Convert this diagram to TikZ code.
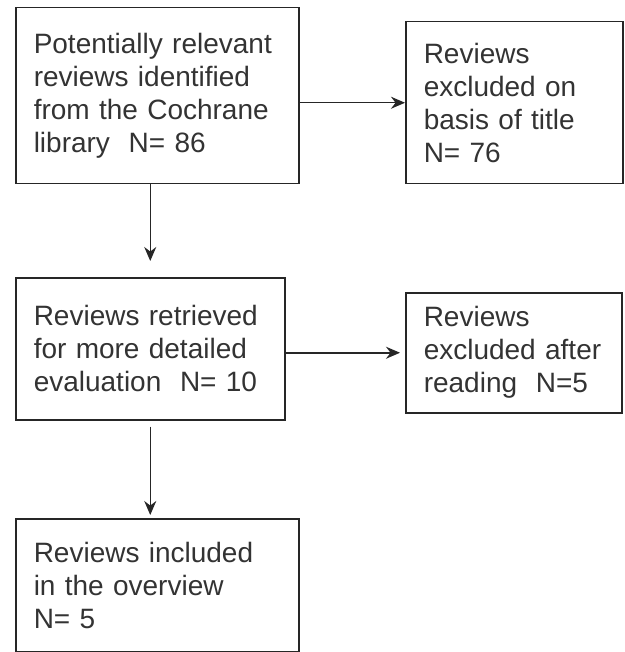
\documentclass[tikz,border=0pt]{standalone}
\usepackage{fontspec}
\setmainfont{Liberation Sans}
\usepackage{tikz}
\usetikzlibrary{positioning,arrows.meta}

\tikzset{
    stagebox/.style={draw=black!85, line width=1.5pt, anchor=north west, align=left,
        inner xsep=18pt, inner ysep=0pt, text=black!80,
        font=\fontsize{28}{33}\selectfont},
}

\begin{document}
\begin{tikzpicture}[x=1pt, y=-1pt, >={Stealth[length=14pt, width=12pt]}, line width=1.5pt]
    \useasboundingbox (0,0) rectangle (624,652);

    % Nodes left column
    \node[stagebox, minimum width=283pt, minimum height=176pt, text width=247pt] (found) at (15,7)
        {Potentially relevant\\reviews identified\\from the Cochrane\\library\ \ N= 86};
    \node[stagebox, minimum width=269pt, minimum height=142pt, text width=233pt] (retrieved) at (15,277)
        {Reviews retrieved\\for more detailed\\evaluation\ \ N= 10\\[8pt]};
    \node[stagebox, minimum width=283pt, minimum height=133pt, text width=247pt] (included) at (15,518)
        {Reviews included\\in the overview\\N= 5\\[6pt]};

    % Nodes right column
    \node[stagebox, minimum width=217pt, minimum height=162pt, text width=181pt] (title) at (405,21)
        {Reviews\\excluded on\\basis of title\\N= 76};
    \node[stagebox, minimum width=216pt, minimum height=120pt, text width=180pt] (reading) at (405,292)
        {Reviews\\excluded after\\reading\ \ N=5};

    % Connections
    \draw[->, black!85] (found.east |- title.west) -- (title.west);
    \draw[->, black!85, shorten >=16pt] (found.south -| retrieved.north) -- (retrieved.north);
    \draw[->, black!85, shorten >=5pt] (retrieved.east |- reading.west) -- (reading.west);
    \draw[->, black!85, shorten <=6pt, shorten >=3pt] (retrieved.south) -- (retrieved.south |- included.north);
\end{tikzpicture}
\end{document}
